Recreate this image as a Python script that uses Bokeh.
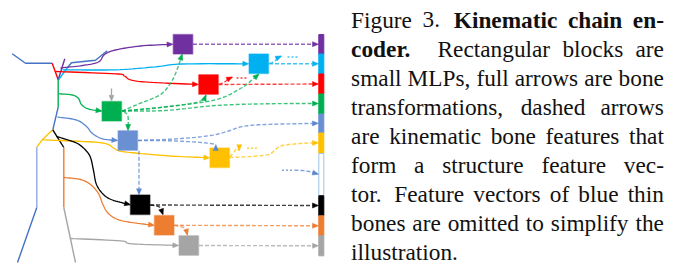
import math
from bokeh.plotting import figure
from bokeh.models import Range1d, ColumnDataSource
from bokeh.core.properties import value
from bokeh.embed import file_html
from bokeh.resources import INLINE

# ---------------- colours ----------------
PURPLE = "#7030A0"; CYAN = "#00B0F0"; RED = "#FF0000"; GREEN = "#00B050"
BLUE = "#5B87D0"; BLUE_BLOCK = "#6A8FD3"; YELLOW = "#FFC000"; BLACK = "#000000"
ORANGE = "#ED7D31"; GRAY = "#A5A5A5"; LIGHTBLUE = "#8FAADC"; DARKBLUE = "#4472C4"
HOLLOW_EDGE = "#9DC3E6"

# ---------------- MLP blocks (centres, pixel coordinates) ----------------
block_x = [182.5, 258.3, 208.0, 111.3, 127.3, 219.2, 139.7, 163.7, 188.3]
block_y = [43.7, 63.3, 84.0, 110.7, 140.0, 157.3, 204.3, 224.8, 245.0]
block_col = [PURPLE, CYAN, RED, GREEN, BLUE_BLOCK, YELLOW, BLACK, ORANGE, GRAY]

# ---------------- structure feature vector ----------------
feat_top = [34.0, 53.5, 73.5, 93.5, 113.5, 132.5, 153.0, 195.3, 215.3, 235.3]
feat_bot = [53.5, 73.5, 93.5, 113.5, 132.5, 152.5, 195.0, 215.3, 235.3, 255.3]
feat_col = [PURPLE, CYAN, RED, GREEN, BLUE_BLOCK, YELLOW, "#FFFFFF", BLACK, ORANGE, GRAY]
feat_edge = [PURPLE, CYAN, RED, GREEN, BLUE_BLOCK, YELLOW, HOLLOW_EDGE, BLACK, ORANGE, GRAY]

# ---------------- skeleton bones ----------------
bones = [
    (DARKBLUE, [(11.7, 53.3), (25, 62.7), (51.7, 62.7)]),
    (RED, [(51.7, 62.7), (57.7, 79.3)]),
    (PURPLE, [(64.3, 58.3), (57.7, 79.3)]),
    (DARKBLUE, [(106.7, 50.3), (95, 59.7), (71, 62.3), (67, 67)]),
    (CYAN, [(67, 67), (58, 79.3)]),
    (GREEN, [(57.7, 79.3), (57.7, 106.7)]),
    (DARKBLUE, [(57.7, 106.7), (52.3, 129.3)]),
    (YELLOW, [(52.3, 129.3), (41.7, 139.3), (36.3, 146.7)]),
    (LIGHTBLUE, [(36.3, 146.7), (36.3, 207)]),
    (DARKBLUE, [(36.3, 207), (17, 262)]),
    (BLACK, [(52.3, 129.3), (63.3, 147)]),
    (ORANGE, [(63.3, 147), (63.3, 207)]),
    (GRAY, [(63.3, 207), (75, 262)]),
]

# ---------------- full arrows (bone transformations) ----------------
solid_arrows = [
    (PURPLE, [(60, 67.5), (82, 65), (98, 61.5), (104, 54), (115, 49.5), (140, 45.5), (172.5, 43.7)]),
    (CYAN, [(62, 69.3), (115, 69.3), (155, 66.3), (182, 63.5), (248.3, 63.3)]),
    (RED, [(55, 71), (115, 73.3), (124, 75.5), (130, 79.3), (148, 81.7), (198, 84)]),
    (GREEN, [(58, 93.3), (72, 94.5), (78, 98), (81, 104), (88, 108.5), (101.5, 110.5)]),
    (GRAY, [(111, 88), (111, 100.8)]),
    (BLUE, [(57, 116.5), (76, 119.5), (86, 126), (92, 133), (102, 138.3), (117.3, 140)]),
    (YELLOW, [(42, 139.3), (92, 141.5), (107, 143.7), (113, 147.5), (119, 150.5), (135, 152.5), (170, 155.5), (209.3, 157.3)]),
    (BLACK, [(56, 136), (66, 139), (77, 143), (85, 149.5), (90, 157), (93, 170), (96, 184), (103, 194), (112, 199.5), (130, 204.3)]),
    (ORANGE, [(63.3, 177), (80, 179), (90, 184), (98, 193), (102, 203), (107, 212), (116, 218.5), (130, 221.8), (154, 224.8)]),
    (GRAY, [(70, 238), (120, 240.3), (127, 242.7), (140, 243.8), (178.3, 245)]),
]

# ---------------- dashed arrows (kinematic bone features) ----------------
# (colour, points, optional head direction override)
dashed_arrows = [
    (PURPLE, [(192.5, 43.7), (318, 43.7)], None),
    (CYAN, [(268.5, 63.3), (318, 63.3)], None),
    (CYAN, [(269, 63), (274, 61), (277, 57.5), (281, 55.5)], None),
    (RED, [(218, 84), (318, 83.5)], None),
    (RED, [(218.5, 84), (224, 81.5), (228, 78.5), (232, 76.5)], None),
    (GREEN, [(121.5, 110.5), (138, 103.5), (160, 94), (171, 81), (177, 68), (181.7, 53.5)], None),
    (GREEN, [(121.5, 110.5), (161.7, 106.7), (191.7, 102.7), (203, 99), (205.5, 94.3)], None),
    (GREEN, [(121.5, 110.5), (165, 106.5), (215, 99.3), (240, 88), (252, 79), (258.5, 73.5)], None),
    (GREEN, [(121.5, 110.5), (165, 110), (215, 105), (265, 103.3), (318, 103)], None),
    (GREEN, [(123.5, 111), (127.5, 116), (127.5, 130)], None),
    (BLUE, [(137.5, 140), (176.7, 138.3), (210, 135), (228, 130.5), (242, 126), (265, 124), (318, 122.8)], None),
    (BLUE, [(137.5, 140), (170, 140.3), (197, 141.7), (210, 143), (215.3, 144)], (0, -1)),
    (BLUE, [(138.5, 150.2), (138.5, 194.3)], None),
    (YELLOW, [(229, 157), (250, 156), (268, 154), (275, 149), (282, 145), (300, 143), (318, 142.3)], None),
    (YELLOW, [(229.5, 156.5), (233, 152), (236.5, 148), (238.7, 150.3)], (0, 1)),
    (BLUE, [(294, 169.7), (306, 170.5), (318, 173.7)], None),
    (BLACK, [(149.5, 204.5), (318, 205)], None),
    (BLACK, [(150, 204.5), (156, 205.5), (160, 207.5), (162.5, 214.3)], None),
    (ORANGE, [(173.5, 224.8), (318, 225.3)], None),
    (ORANGE, [(174, 225), (180, 226), (185, 228), (187, 234.7)], None),
    (GRAY, [(198.5, 245), (318, 245.3)], None),
]

# "..." marks after the small arrows: (colour, x0, x1, y)
dots = [(CYAN, 287, 297, 56.5), (RED, 236, 246, 77.5), (YELLOW, 246.5, 256.5, 147.7), (BLUE, 281.5, 291.5, 169.7)]

# ---------------- caption ----------------
caption_words = [
    [("Figure", 0), ("3.", 0), ("Kinematic", 1), ("chain", 1), ("en-", 1)],
    [("coder.", 1), ("Rectangular", 0), ("blocks", 0), ("are", 0)],
    [("small", 0), ("MLPs,", 0), ("full", 0), ("arrows", 0), ("are", 0), ("bone", 0)],
    [("transformations,", 0), ("dashed", 0), ("arrows", 0)],
    [("are", 0), ("kinematic", 0), ("bone", 0), ("features", 0), ("that", 0)],
    [("form", 0), ("a", 0), ("structure", 0), ("feature", 0), ("vec-", 0)],
    [("tor.", 0), ("Feature", 0), ("vectors", 0), ("of", 0), ("blue", 0), ("thin", 0)],
    [("bones", 0), ("are", 0), ("omitted", 0), ("to", 0), ("simplify", 0), ("the", 0)],
    [("illustration.", 0)],
]

# Times (Liberation Serif metric-compatible) advance widths, 1/1000 em
W_REG = {' ': 250, ',': 250, '.': 250, '-': 333, '3': 500, 'F': 556, 'M': 889, 'L': 611,
         'P': 556, 'R': 667, 'a': 444, 'b': 500, 'c': 444, 'd': 500, 'e': 444, 'f': 333,
         'g': 500, 'h': 500, 'i': 278, 'k': 500, 'l': 278, 'm': 778, 'n': 500, 'o': 500,
         'p': 500, 'r': 333, 's': 389, 't': 278, 'u': 500, 'v': 500, 'w': 722, 'y': 500}
W_BOLD = {'.': 250, '-': 333, 'K': 778, 'a': 500, 'c': 444, 'd': 556, 'e': 444, 'h': 556,
          'i': 278, 'm': 833, 'n': 556, 'o': 500, 'r': 444, 't': 333}

FS = 23.3
L_X, R_X = 350.6, 663.4
BASE0, LEAD = 19.3, 29.0


def word_width(w, b):
    tab = W_BOLD if b else W_REG
    return sum(tab.get(c, 500) for c in w) * FS / 1000.0


def gap_weight(word):
    w, b = word
    if w.endswith('.'):
        return 3.0 if b else 1.7
    if w.endswith(','):
        return 1.25
    return 1.0


def smooth(pts, n=10):
    if len(pts) < 3:
        return list(pts)
    P = [pts[0]] + list(pts) + [pts[-1]]
    out = []
    for i in range(1, len(P) - 2):
        p0, p1, p2, p3 = P[i - 1], P[i], P[i + 1], P[i + 2]
        for k in range(n):
            t = k / n
            t2, t3 = t * t, t * t * t
            xy = []
            for d in range(2):
                xy.append(0.5 * (2 * p1[d] + (-p0[d] + p2[d]) * t
                                 + (2 * p0[d] - 5 * p1[d] + 4 * p2[d] - p3[d]) * t2
                                 + (-p0[d] + 3 * p1[d] - 3 * p2[d] + p3[d]) * t3))
            out.append(tuple(xy))
    out.append(pts[-1])
    return out


HEAD_L, HEAD_W = 6.0, 5.0


def head(tip, prev, direction=None):
    if direction is None:
        dx, dy = tip[0] - prev[0], tip[1] - prev[1]
    else:
        dx, dy = direction
    n = math.hypot(dx, dy) or 1.0
    dx, dy = dx / n, dy / n
    bx, by = tip[0] - dx * HEAD_L, tip[1] - dy * HEAD_L
    nx, ny = -dy, dx
    xs = [tip[0], bx + nx * HEAD_W / 2, bx - nx * HEAD_W / 2]
    ys = [tip[1], by + ny * HEAD_W / 2, by - ny * HEAD_W / 2]
    return xs, ys, (bx, by)


# Bokeh's page template has no body margin: the figure covers the whole 691x264 window
p = figure(width=691, height=264, x_range=Range1d(0, 691), y_range=Range1d(264, 0),
           x_axis_type=None, y_axis_type=None, toolbar_location=None,
           output_backend="svg", min_border=0)
p.grid.visible = False
p.outline_line_color = None
p.background_fill_color = "white"
p.border_fill_color = "white"

# bones
p.multi_line(xs=[[q[0] for q in pts] for c, pts in bones],
             ys=[[q[1] for q in pts] for c, pts in bones],
             line_color=[c for c, pts in bones], line_width=1.4)

head_xs, head_ys, head_cols = [], [], []

# solid arrows
s_xs, s_ys, s_cols = [], [], []
for c, pts in solid_arrows:
    sp = smooth(pts)
    hx, hy, base = head(sp[-1], sp[-2])
    sp = sp[:-1] + [base]
    s_xs.append([q[0] for q in sp]); s_ys.append([q[1] for q in sp]); s_cols.append(c)
    head_xs.append(hx); head_ys.append(hy); head_cols.append(c)
p.multi_line(xs=s_xs, ys=s_ys, line_color=s_cols, line_width=1.3)

# dashed arrows
d_xs, d_ys, d_cols = [], [], []
for c, pts, dr in dashed_arrows:
    sp = smooth(pts)
    hx, hy, base = head(sp[-1], sp[-2], dr)
    if dr is None:
        sp = sp[:-1] + [base]
    d_xs.append([q[0] for q in sp]); d_ys.append([q[1] for q in sp]); d_cols.append(c)
    head_xs.append(hx); head_ys.append(hy); head_cols.append(c)
p.multi_line(xs=d_xs, ys=d_ys, line_color=d_cols, line_width=1.4, line_dash="4 2", line_alpha=0.75)

# dots
p.multi_line(xs=[[a, b] for c, a, b, y in dots], ys=[[y, y] for c, a, b, y in dots],
             line_color=[c for c, a, b, y in dots], line_width=1.5, line_dash="2 2", line_alpha=0.75)

# blocks
p.rect(x=block_x, y=block_y, width=19.5, height=19.5, fill_color=block_col,
       line_color=block_col, line_alpha=0.45, line_width=1.5)

# feature vector
p.quad(left=[318.3] * len(feat_top), right=[323.3] * len(feat_top), top=feat_top, bottom=feat_bot,
       fill_color=feat_col, line_color=feat_edge, line_width=1)

# arrow heads
p.patches(xs=head_xs, ys=head_ys, fill_color=head_cols, line_color=head_cols, line_width=0.5)

# caption text (justified)
reg = dict(x=[], y=[], t=[])
bold = dict(x=[], y=[], t=[])
n_lines = len(caption_words)
for i, words in enumerate(caption_words):
    y = BASE0 + LEAD * i
    widths = [word_width(w, b) for w, b in words]
    gaps = len(words) - 1
    space = 0.25 * FS
    if i < n_lines - 1 and gaps > 0:
        weights = [gap_weight(words[j]) for j in range(gaps)]
        extra = (R_X - L_X) - sum(widths) - gaps * space
        unit = extra / sum(weights)
        gapw = [space + unit * wgt for wgt in weights]
    else:
        gapw = [space] * gaps
    x = L_X
    for j, (w, b) in enumerate(words):
        tgt = bold if b else reg
        tgt["x"].append(x); tgt["y"].append(y); tgt["t"].append(w)
        x += widths[j] + (gapw[j] if j < gaps else 0)

p.text(x="x", y="y", text="t", source=ColumnDataSource(reg), text_font=value("Liberation Serif"),
       text_font_size=value("23.3px"), text_color="#111111", text_align="left",
       text_baseline="alphabetic", text_line_height=1.0)
p.text(x="x", y="y", text="t", source=ColumnDataSource(bold), text_font=value("Liberation Serif"),
       text_font_size=value("23.3px"), text_font_style="bold", text_color="#111111",
       text_align="left", text_baseline="alphabetic", text_line_height=1.0)

open("out.html", "w").write(file_html(p, INLINE))
